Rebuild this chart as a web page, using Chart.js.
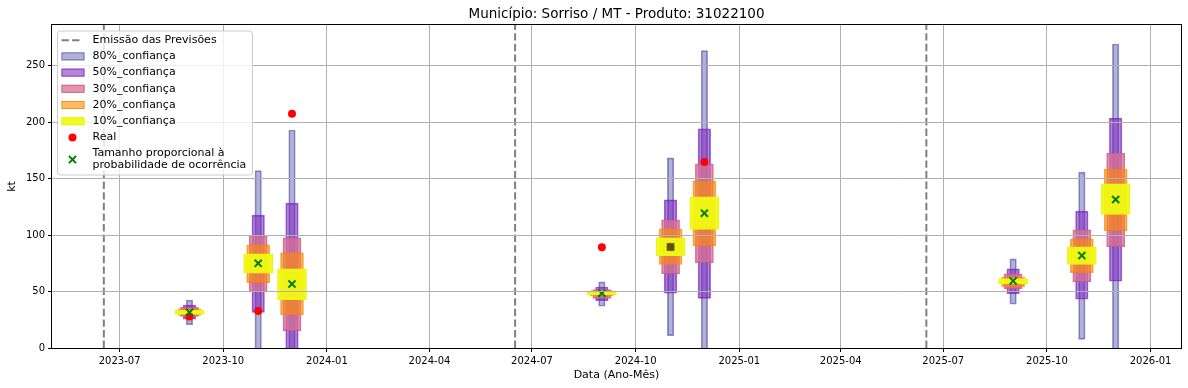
<!DOCTYPE html>
<html>
<head>
<meta charset="utf-8">
<script src="https://cdn.jsdelivr.net/npm/chart.js@4.4.1/dist/chart.umd.min.js"></script>
<style>
  html, body { margin: 0; padding: 0; background: #fff; }
</style>
</head>
<body>
<canvas id="chart" width="1188" height="388"></canvas>
<script>
// forecast months and emission dates
const forecastDates = ['2023-09-01', '2023-11-01', '2023-12-01', '2024-09-01', '2024-11-01', '2024-12-01', '2025-09-01', '2025-11-01', '2025-12-01'];
const emissionDates = ['2023-06-17', '2024-06-16', '2025-06-16'];

// confidence intervals (kt)
const ci80Low  = [20.5, -10, -20, 37, 10.9, -15, 38.7, 7.7, -15];
const ci80High = [42.5, 157, 193, 58.5, 168.4, 263.3, 78.9, 155.7, 269.2];
const ci50Low  = [25.5, 31.6, -5, 42, 48.5, 44, 48.1, 43.2, 59.1];
const ci50High = [38, 117.6, 128.3, 54, 131.2, 194.1, 70, 121.2, 203.6];
const ci30Low  = [28, 49.6, 15.4, 44, 65.9, 75.6, 52.6, 58.8, 89.8];
const ci30High = [36, 99.6, 97.5, 51.7, 113.5, 163.1, 65.6, 104.6, 172.6];
const ci20Low  = [28.8, 57.9, 29.5, 46, 73.9, 90.7, 54.4, 66.8, 104];
const ci20High = [34.6, 91.3, 84.2, 50.8, 105.5, 148, 62.9, 96.6, 158.4];
const ci10Low  = [29.8, 66.2, 42.8, 47, 81.8, 104.9, 57, 73.9, 118.2];
const ci10High = [33.4, 83.3, 70, 49.4, 97.5, 133.9, 61.4, 89.5, 145.4];
const medianValues = [31.6, 75, 56.7, 48.5, 89.5, 119.4, 59.4, 81.8, 131.5];

// observed values
const realDates = ['2023-09-01', '2023-11-01', '2023-12-01', '2024-09-01', '2024-11-01', '2024-12-01'];
const realValues = [28, 32.8, 207.5, 89.2, 89.5, 164.6];

// axis ticks
const xTickLabels = ['2023-07', '2023-10', '2024-01', '2024-04', '2024-07', '2024-10', '2025-01', '2025-04', '2025-07', '2025-10', '2026-01'];
const yTicks = [0, 50, 100, 150, 200, 250];

const t = s => Date.parse(s + 'T00:00:00Z');
const xMin = t('2023-05-02');
const xMax = t('2026-01-28');
const yMin = 0;
const yMax = 286;

Chart.defaults.font.family = '"DejaVu Sans", sans-serif';
Chart.defaults.font.size = 10;
Chart.defaults.color = '#000';

function ciDataset(label, lows, highs, fill, edge, thickness, order) {
    return {
        type: 'bar',
        label: label,
        data: forecastDates.map((d, i) => ({ x: t(d), y: [lows[i], highs[i]] })),
        backgroundColor: fill,
        borderColor: edge,
        borderWidth: 1,
        borderSkipped: false,
        barThickness: thickness,
        grouped: false,
        order: order
    };
}

const datasets = [
    {
        type: 'line',
        label: 'Emissão das Previsões',
        data: emissionDates.flatMap(d => [{ x: t(d), y: yMin }, { x: t(d), y: yMax }, { x: t(d), y: null }]),
        borderColor: 'rgb(128,128,128)',
        borderWidth: 2,
        borderDash: [7.4, 3.2],
        pointRadius: 0,
        spanGaps: false,
        fill: false,
        order: 7
    },
    ciDataset('80%_confiança', ci80Low, ci80High, 'rgba(0,0,128,0.3)', 'rgba(0,0,128,0.42)', 6.5, 6),
    ciDataset('50%_confiança', ci50Low, ci50High, 'rgba(120,30,185,0.55)', 'rgba(120,30,185,0.7)', 12.5, 5),
    ciDataset('30%_confiança', ci30Low, ci30High, 'rgba(219,112,147,0.75)', 'rgba(200,90,135,0.85)', 18, 4),
    ciDataset('20%_confiança', ci20Low, ci20High, 'rgba(255,140,0,0.6)', 'rgba(245,130,0,0.7)', 23, 3),
    ciDataset('10%_confiança', ci10Low, ci10High, 'rgba(240,250,20,0.95)', 'rgba(235,245,20,1)', 29, 2),
    {
        type: 'scatter',
        label: 'Real',
        data: realDates.map((d, i) => ({ x: t(d), y: realValues[i] })),
        pointStyle: 'circle',
        pointRadius: 4,
        backgroundColor: 'red',
        borderColor: 'red',
        borderWidth: 0,
        order: 1
    },
    {
        type: 'scatter',
        label: 'Tamanho proporcional à\nprobabilidade de ocorrência',
        data: forecastDates.map((d, i) => ({ x: t(d), y: medianValues[i] })),
        pointStyle: 'crossRot',
        pointRadius: 5,
        borderColor: 'green',
        backgroundColor: 'green',
        borderWidth: 2,
        order: 0
    }
];

// frame, title and a matplotlib-like legend inside the plot
const framePlugin = {
    id: 'frame',
    afterDraw(chart) {
        const { ctx, chartArea: a } = chart;
        ctx.save();
        ctx.strokeStyle = '#000';
        ctx.lineWidth = 1;
        ctx.strokeRect(a.left - 0.5, a.top - 0.5, a.right - a.left + 1, a.bottom - a.top + 1);
        ctx.fillStyle = '#000';
        ctx.font = '13.5px "DejaVu Sans", sans-serif';
        ctx.textAlign = 'center';
        ctx.textBaseline = 'middle';
        ctx.fillText('Município: Sorriso / MT - Produto: 31022100', (a.left + a.right) / 2, 14.5);
        ctx.restore();
    }
};

const boxLegend = {
    id: 'boxLegend',
    afterDraw(chart) {
        const { ctx, chartArea: a } = chart;
        const left = a.left + 5.5, top = a.top + 6;
        const w = 195, h = 144;
        ctx.save();
        ctx.beginPath();
        if (ctx.roundRect) {
            ctx.roundRect(left, top, w, h, 3);
        } else {
            ctx.rect(left, top, w, h);
        }
        ctx.fillStyle = 'rgba(255,255,255,0.8)';
        ctx.fill();
        ctx.strokeStyle = '#cccccc';
        ctx.lineWidth = 1;
        ctx.stroke();

        ctx.font = '11px "DejaVu Sans", sans-serif';
        ctx.textBaseline = 'middle';
        ctx.textAlign = 'left';
        let y = top + 9.2;
        const hx = left + 4;
        chart.data.datasets.forEach(ds => {
            const lines = ds.label.split('\n');
            const blockH = (lines.length - 1) * 12;
            const cy = y + blockH / 2;
            if (ds.type === 'line') {
                ctx.beginPath();
                ctx.setLineDash(ds.borderDash);
                ctx.strokeStyle = ds.borderColor;
                ctx.lineWidth = ds.borderWidth;
                ctx.moveTo(hx, cy);
                ctx.lineTo(hx + 20, cy);
                ctx.stroke();
                ctx.setLineDash([]);
            } else if (ds.type === 'bar') {
                ctx.fillStyle = ds.backgroundColor;
                ctx.fillRect(hx, cy - 4, 23, 8);
                ctx.strokeStyle = ds.borderColor;
                ctx.lineWidth = 1;
                ctx.strokeRect(hx + 0.5, cy - 3.5, 22, 7);
            } else if (ds.pointStyle === 'circle') {
                ctx.beginPath();
                ctx.fillStyle = ds.backgroundColor;
                ctx.arc(hx + 11, cy, ds.pointRadius, 0, Math.PI * 2);
                ctx.fill();
            } else {
                const o = Math.SQRT1_2 * ds.pointRadius;
                ctx.beginPath();
                ctx.strokeStyle = ds.borderColor;
                ctx.lineWidth = ds.borderWidth;
                ctx.moveTo(hx + 11 - o, cy - o);
                ctx.lineTo(hx + 11 + o, cy + o);
                ctx.moveTo(hx + 11 - o, cy + o);
                ctx.lineTo(hx + 11 + o, cy - o);
                ctx.stroke();
            }
            ctx.fillStyle = '#000';
            lines.forEach((ln, k) => ctx.fillText(ln, left + 35, y + k * 12));
            y += 16.2 + blockH;
        });
        ctx.restore();
    }
};

new Chart(document.getElementById('chart'), {
    type: 'bar',
    data: { datasets: datasets },
    plugins: [framePlugin, boxLegend],
    options: {
        responsive: false,
        animation: false,
        devicePixelRatio: 1,
        layout: { padding: { top: 25, right: 7, left: 0, bottom: 0 } },
        plugins: {
            legend: { display: false },
            title: { display: false },
            tooltip: { enabled: false }
        },
        scales: {
            x: {
                type: 'linear',
                min: xMin,
                max: xMax,
                bounds: 'data',
                offset: false,
                grid: { color: '#b0b0b0', lineWidth: 1, z: 1, offset: false, drawTicks: true, tickLength: 4, tickColor: '#000', tickWidth: 1 },
                border: { display: false },
                ticks: { autoSkip: false, maxRotation: 0, padding: 3, callback: (v, i) => xTickLabels[i] },
                afterBuildTicks: s => { s.ticks = xTickLabels.map(l => ({ value: t(l + '-01') })); },
                afterFit: s => { s.height = 40; },
                title: { display: true, text: 'Data (Ano-Mês)', font: { size: 11 }, padding: { top: 2, bottom: 6.5 } }
            },
            y: {
                type: 'linear',
                min: yMin,
                max: yMax,
                bounds: 'data',
                grid: { color: '#b0b0b0', lineWidth: 1, z: 1, drawTicks: true, tickLength: 4, tickColor: '#000', tickWidth: 1 },
                border: { display: false },
                ticks: { padding: 3 },
                afterBuildTicks: s => { s.ticks = yTicks.map(v => ({ value: v })); },
                afterFit: s => { s.width = 52; },
                title: { display: true, text: 'kt', font: { size: 11 }, padding: { top: 6, bottom: 0 } }
            }
        }
    }
});
</script>
</body>
</html>
